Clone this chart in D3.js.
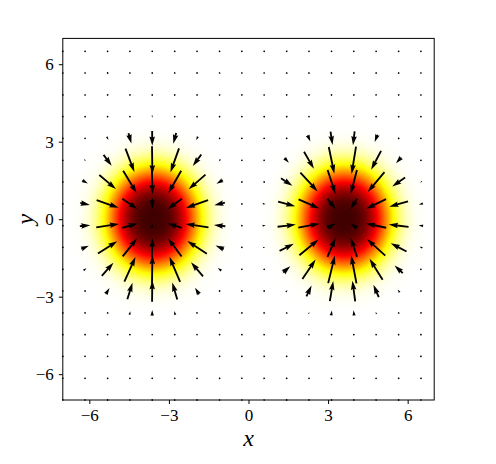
<!DOCTYPE html>
<html>
<head>
<meta charset="utf-8">
<script src="https://cdn.jsdelivr.net/npm/d3@7"></script>
<style>
  body { margin: 0; background: #fff; }
  svg { display: block; }
  svg text { font-family: 'Times New Roman', 'Liberation Serif', 'DejaVu Serif', serif; }
</style>
</head>
<body>
<svg id="chart" width="496" height="464"></svg>
<script>
// quiver grid positions
const gridX = [-7, -6.16, -5.31, -4.47, -3.63, -2.78, -1.94, -1.09, -0.25, 0.59, 1.44, 2.28, 3.13, 3.97, 4.81, 5.66, 6.5]
const gridY = [-7, -6.16, -5.31, -4.47, -3.63, -2.78, -1.94, -1.09, -0.25, 0.59, 1.44, 2.28, 3.13, 3.97, 4.81, 5.66, 6.5]
// the two blobs
const blobX = [-3.6, 3.6]
const blobY = [0, 0]
const blobRadius = [1.71, 1.96]  // x, y size of the intensity
const blobPower = 3.1
const blobPeak = 0.92
const fieldStretch = 1.25        // y stretch of the force field
const fieldC = 29.3
const xTicks = [-6, -3, 0, 3, 6]
const yTicks = [-6, -3, 0, 3, 6]
const domain = [-7, 7]

const margins = { top: 38.4, left: 62.8, width: 371.4, height: 361.6 }
const arrowScale = 18           // px per unit of force
const shaftWidth = 0.005 * margins.width

const svg = d3.select('#chart')
const g = svg.append('g').attr('transform', `translate(${margins.left},${margins.top})`)

const x = d3.scaleLinear().domain(domain).range([0, margins.width])
const y = d3.scaleLinear().domain(domain).range([margins.height, 0])

function intensity(px, py) {
	let t = 0
	for (let i = 0; i < blobX.length; i++) {
		const dx = (px - blobX[i]) / blobRadius[0]
		const dy = (py - blobY[i]) / blobRadius[1]
		t += Math.exp(-Math.pow(dx * dx + dy * dy, blobPower / 2))
	}
	return blobPeak * t
}

function force(px, py) {
	let fx = 0, fy = 0
	for (let i = 0; i < blobX.length; i++) {
		const dx = px - blobX[i]
		const dy = py - blobY[i]
		const r2 = dx * dx + (dy / fieldStretch) * (dy / fieldStretch)
		const w = Math.exp(-(r2 * r2) / fieldC)
		fx -= dx * w
		fy -= dy * w
	}
	return [fx, fy]
}

// matplotlib 'hot' colormap, used reversed
function hot(s) {
	const c = v => Math.max(0, Math.min(1, v))
	const r = s < 0.365079 ? 0.0416 + (1 - 0.0416) * s / 0.365079 : 1
	const gg = c((s - 0.365079) / (0.746032 - 0.365079))
	const b = c((s - 0.746032) / (1 - 0.746032))
	return [r * 255, gg * 255, b * 255]
}

// density image
const W = Math.round(margins.width), H = Math.round(margins.height)
const canvas = document.createElement('canvas')
canvas.width = W
canvas.height = H
const ctx = canvas.getContext('2d')
const img = ctx.createImageData(W, H)
for (let j = 0; j < H; j++) {
	const py = y.invert(j + 0.5)
	for (let i = 0; i < W; i++) {
		const px = x.invert(i + 0.5)
		const t = Math.min(1, intensity(px, py))
		const [r, gg, b] = hot(1 - t)
		const k = (j * W + i) * 4
		img.data[k] = r
		img.data[k + 1] = gg
		img.data[k + 2] = b
		img.data[k + 3] = 255
	}
}
ctx.putImageData(img, 0, 0)
g.append('image')
	.attr('href', canvas.toDataURL())
	.attr('width', margins.width).attr('height', margins.height)
	.attr('preserveAspectRatio', 'none')

// quiver arrows, same geometry as matplotlib's (pivot middle)
function arrowVerts(len) {
	const headW = 3, headL = 5, headAx = 4.5, minsh = 5, minlength = 1
	let X, Y
	if (len < minlength) {
		X = [], Y = []
		for (let k = 0; k < 8; k++) {
			X.push(Math.cos(k * Math.PI / 3) * minlength * 0.5)
			Y.push(Math.sin(k * Math.PI / 3) * minlength * 0.5)
		}
		return [X, Y]
	}
	const ii = [0, 1, 2, 3, 2, 1, 0, 0]
	let xs, ys
	if (len < minsh) {
		const sh = len / minsh
		xs = [0, minsh - headAx, minsh - headL, minsh].map(v => v * sh)
		ys = [0.5, 0.5, 0.5 * headW, 0].map(v => v * sh)
	} else {
		xs = [0, len - headAx, len - headL, len]
		ys = [0.5, 0.5, 0.5 * headW, 0]
	}
	X = ii.map(k => xs[k])
	Y = ii.map((k, n) => (n >= 3 && n < 7 ? -1 : 1) * ys[k])
	const half = 0.5 * X[3]
	X = X.map(v => v - half)
	return [X, Y]
}

const arrows = []
gridY.forEach(gy => gridX.forEach(gx => {
	const [fx, fy] = force(gx, gy)
	arrows.push({ gx, gy, fx, fy })
}))

g.append('g').selectAll('path').data(arrows).enter().append('path')
	.attr('fill', '#000')
	.attr('d', d => {
		const mag = Math.hypot(d.fx, d.fy)
		const len = mag * arrowScale / shaftWidth
		const ang = Math.atan2(-d.fy, d.fx)
		const [X, Y] = arrowVerts(len)
		const cx = x(d.gx), cy = y(d.gy)
		const pts = X.map((vx, k) => {
			const ux = vx * shaftWidth, uy = Y[k] * shaftWidth
			return [cx + ux * Math.cos(ang) - uy * Math.sin(ang), cy + ux * Math.sin(ang) + uy * Math.cos(ang)]
		})
		return 'M' + pts.map(p => p.join(',')).join('L') + 'Z'
	})

// axes
const fmt = d3.format('d')
g.append('g').attr('transform', `translate(0,${margins.height})`)
	.call(d3.axisBottom(x).tickValues(xTicks).tickSize(4).tickPadding(5).tickFormat(fmt))
	.call(a => a.select('.domain').remove())
	.attr('font-family', null).attr('font-size', 17)
	.selectAll('text').attr('fill', '#000')

g.append('g')
	.call(d3.axisLeft(y).tickValues(yTicks).tickSize(4).tickPadding(5).tickFormat(fmt))
	.call(a => a.select('.domain').remove())
	.attr('font-family', null).attr('font-size', 17)
	.selectAll('text').attr('fill', '#000')

g.append('rect')
	.attr('width', margins.width).attr('height', margins.height)
	.attr('fill', 'none').attr('stroke', '#000').attr('stroke-width', 1)

svg.append('text')
	.attr('x', margins.left + margins.width / 2).attr('y', 446)
	.attr('text-anchor', 'middle')
	.style('font-style', 'italic').style('font-size', '24px')
	.text('x')

svg.append('text')
	.attr('transform', `translate(33,${margins.top + margins.height / 2}) rotate(-90)`)
	.attr('text-anchor', 'middle')
	.style('font-style', 'italic').style('font-size', '24px')
	.text('y')
</script>
</body>
</html>
